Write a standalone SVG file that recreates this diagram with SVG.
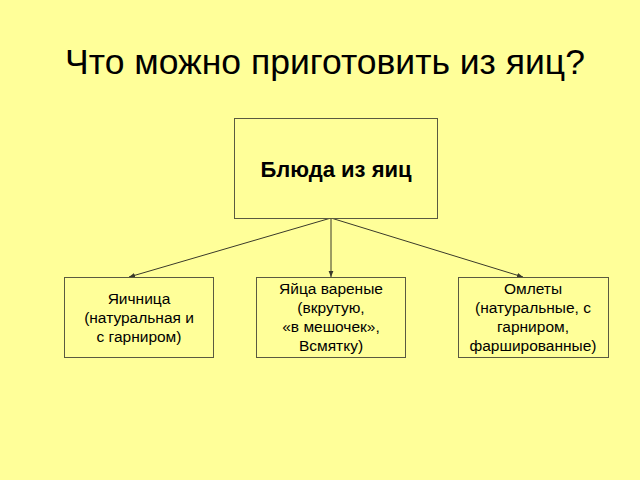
<svg xmlns="http://www.w3.org/2000/svg" width="640" height="480" viewBox="0 0 640 480">
<style>
.b{fill:#ffff99;stroke:#5a5a40;stroke-width:1}
.t{font-family:"Liberation Sans",Arial,sans-serif;font-size:15.5px;fill:#000;text-anchor:middle}
.c{stroke:#3a3a2a;stroke-width:1;fill:none;marker-end:url(#a)}
</style>
<defs><marker id="a" viewBox="0 0 10 10" refX="10" refY="5" markerWidth="6" markerHeight="6" orient="auto"><path d="M0,1 L10,5 L0,9 z" fill="#3a3a2a"/></marker></defs>
<rect width="640" height="480" fill="#ffff99"/>
<text x="325" y="74" style="font-family:'Liberation Sans',Arial,sans-serif;font-size:35.5px;text-anchor:middle">Что можно приготовить из яиц?</text>
<g id="connectors">
<line class="c" x1="331" y1="218" x2="129" y2="277"/>
<line class="c" x1="331" y1="218" x2="331" y2="277"/>
<line class="c" x1="331" y1="218" x2="523" y2="277"/>
</g>
<g id="root"><rect class="b" x="234.5" y="118.5" width="203" height="100"/><text class="t" x="336" y="177" style="font-size:22px;font-weight:bold">Блюда из яиц</text></g>
<g id="n1"><rect class="b" x="64.5" y="277.5" width="149" height="80"/><text class="t" x="139" y="304">Яичница</text><text class="t" x="139" y="323">(натуральная и</text><text class="t" x="139" y="342">с гарниром)</text></g>
<g id="n2"><rect class="b" x="256.5" y="277.5" width="149" height="80"/><text class="t" x="331" y="294">Яйца вареные</text><text class="t" x="331" y="313">(вкрутую,</text><text class="t" x="331" y="332">«в мешочек»,</text><text class="t" x="331" y="351">Всмятку)</text></g>
<g id="n3"><rect class="b" x="458.5" y="277.5" width="150" height="80"/><text class="t" x="533" y="294">Омлеты</text><text class="t" x="533" y="313">(натуральные, с</text><text class="t" x="533" y="332">гарниром,</text><text class="t" x="533" y="351">фаршированные)</text></g>
</svg>
